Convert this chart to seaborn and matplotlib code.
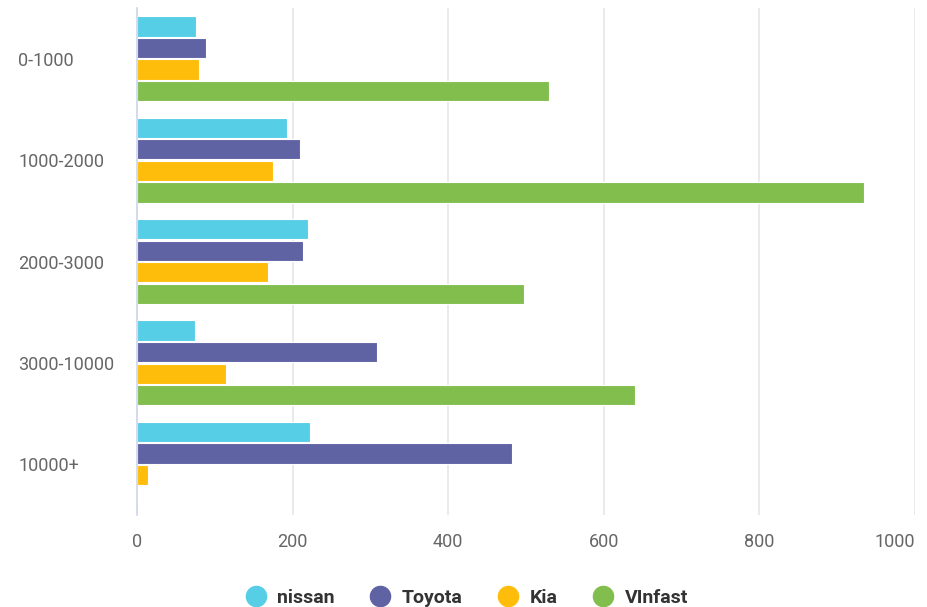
import matplotlib
matplotlib.use("Agg")
import matplotlib.pyplot as plt
from matplotlib.lines import Line2D
import seaborn as sns
import pandas as pd

categories = ["0-1000", "1000-2000", "2000-3000", "3000-10000", "10000+"]
brands = ["nissan", "Toyota", "Kia", "VInfast"]
nissan = [76, 193, 220, 74, 222]
toyota = [89, 210, 214, 308, 482]
kia = [80, 175, 169, 114, 14]
vinfast = [530, 934, 498, 640, 0]
colors = ["#56cee6", "#6063a3", "#ffbd0b", "#81be4e"]
x_ticks = [0, 200, 400, 600, 800, 1000]

rows = []
for b, vals in zip(brands, [nissan, toyota, kia, vinfast]):
    for c, v in zip(categories, vals):
        rows.append({"range": c, "brand": b, "value": v})
df = pd.DataFrame(rows)

sns.set_theme(style="white")
plt.rcParams["font.family"] = ["Roboto", "DejaVu Sans"]

fig = plt.figure(figsize=(9.27, 6.07), dpi=100)
ax = fig.add_axes([137 / 927, 1 - 515 / 607, (915 - 137) / 927, (515 - 8) / 607])

sns.barplot(data=df, y="range", x="value", hue="brand", order=categories,
            hue_order=brands, palette=colors, orient="h", width=0.85, gap=0.06,
            edgecolor="white", linewidth=0.8, saturation=1, ax=ax, legend=False)

ax.set_xlim(0, 1000)
ax.set_ylim(4.5, -0.5)
ax.set_xticks(x_ticks)
ax.set_xticklabels([str(t) for t in x_ticks])
ax.grid(axis="x", color="#e6e6e6", linewidth=1.2)
ax.set_axisbelow(True)
for s in ["top", "right", "bottom"]:
    ax.spines[s].set_visible(False)
ax.spines["left"].set_color("#ccd6eb")
ax.spines["left"].set_linewidth(1.2)
ax.set_xlabel("")
ax.set_ylabel("")
ax.tick_params(axis="x", length=0, pad=13, labelsize=13, labelcolor="#666666")
ax.tick_params(axis="y", length=0, pad=0, labelsize=13, labelcolor="#666666")
for lab in ax.get_yticklabels():
    lab.set_horizontalalignment("left")
    lab.set_x(-119 / 778)
xl = ax.get_xticklabels()
xl[-1].set_horizontalalignment("right")

handles = [Line2D([0], [0], marker="o", linestyle="", markersize=14.5,
                  markerfacecolor=c, markeredgecolor=c) for c in colors]
leg = fig.legend(handles, brands, loc="center", bbox_to_anchor=(467 / 927, 1 - 598 / 607),
                 ncol=4, frameon=False, handlelength=1.0, handletextpad=0.6,
                 columnspacing=1.85, borderpad=0, prop={"weight": "bold", "size": 14})
for t in leg.get_texts():
    t.set_color("#333333")

fig.savefig("out.png", dpi=100)
